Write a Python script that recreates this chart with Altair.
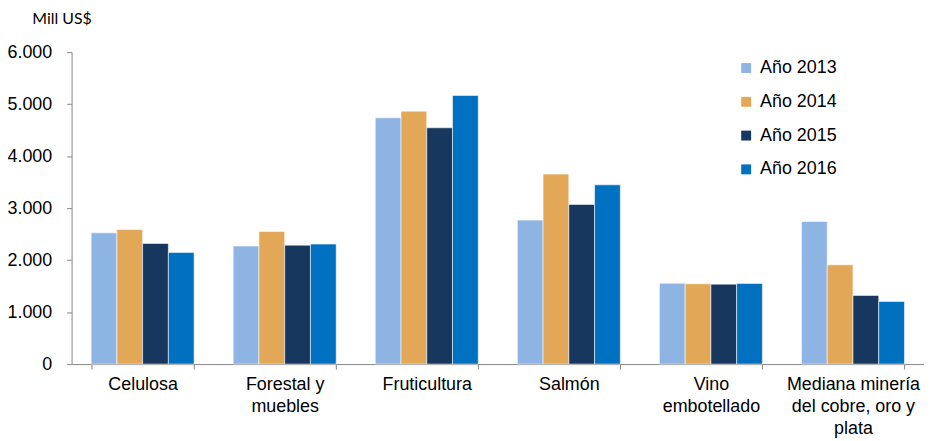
import altair as alt
import pandas as pd

categories = ["Celulosa", "Forestal y|muebles", "Fruticultura", "Salmón",
              "Vino|embotellado", "Mediana minería|del cobre, oro y|plata"]
years = ["Año 2013", "Año 2014", "Año 2015", "Año 2016"]
v2013 = [2525, 2270, 4737, 2769, 1555, 2744]
v2014 = [2590, 2552, 4865, 3654, 1545, 1910]
v2015 = [2320, 2288, 4545, 3071, 1538, 1321]
v2016 = [2148, 2308, 5167, 3448, 1551, 1205]
colors = ["#8EB4E3", "#E3A857", "#17375E", "#0070C0"]

rows = []
for series, name in zip([v2013, v2014, v2015, v2016], years):
    for cat, val in zip(categories, series):
        rows.append({"cat": cat, "year": name, "value": val})
df = pd.DataFrame(rows)

FONT = "Liberation Sans"

chart = alt.Chart(df).mark_bar(stroke="white", strokeWidth=0.8, strokeOpacity=0.7).encode(
    x=alt.X("cat:N", sort=categories,
            scale=alt.Scale(paddingInner=0.275, paddingOuter=0.1375),
            axis=alt.Axis(title=None, labelAngle=0, tickBand="extent",
                          labelExpr="split(datum.label, '|')",
                          labelFont=FONT, labelFontSize=18, labelColor="#000000",
                          labelLineHeight=22, labelPadding=7, tickSize=5,
                          domainColor="#868686", tickColor="#868686",
                          labelBaseline="top")),
    xOffset=alt.XOffset("year:N", sort=years),
    y=alt.Y("value:Q", scale=alt.Scale(domain=[0, 6000], nice=False),
            axis=alt.Axis(title="Mill US$", values=[0, 1000, 2000, 3000, 4000, 5000, 6000],
                          labelExpr="replace(format(datum.value, ','), ',', '.')",
                          labelFont=FONT, labelFontSize=18, labelColor="#000000",
                          labelPadding=15, tickSize=5, grid=False,
                          domainColor="#868686", tickColor="#868686",
                          titleAngle=0, titleAlign="left", titleBaseline="middle",
                          titleX=-40, titleY=-34, titleFont="Lato", titleFontSize=16,
                          titleFontWeight="normal", titleColor="#000000")),
    color=alt.Color("year:N", sort=years,
                    scale=alt.Scale(domain=years, range=colors),
                    legend=alt.Legend(title=None, orient="none", legendX=670, legendY=7,
                                      symbolType="square", symbolSize=100,
                                      symbolStrokeWidth=0,
                                      labelFont=FONT, labelFontSize=18,
                                      labelColor="#000000", rowPadding=16,
                                      labelOffset=5)),
).properties(
    width=858, height=314,
    autosize=alt.AutoSizeParams(type="none"),
    padding={"left": 64, "top": 43, "right": 0, "bottom": 78},
).configure_view(stroke=None)

chart.save("out.html", embed_options={"renderer": "svg", "actions": False})
